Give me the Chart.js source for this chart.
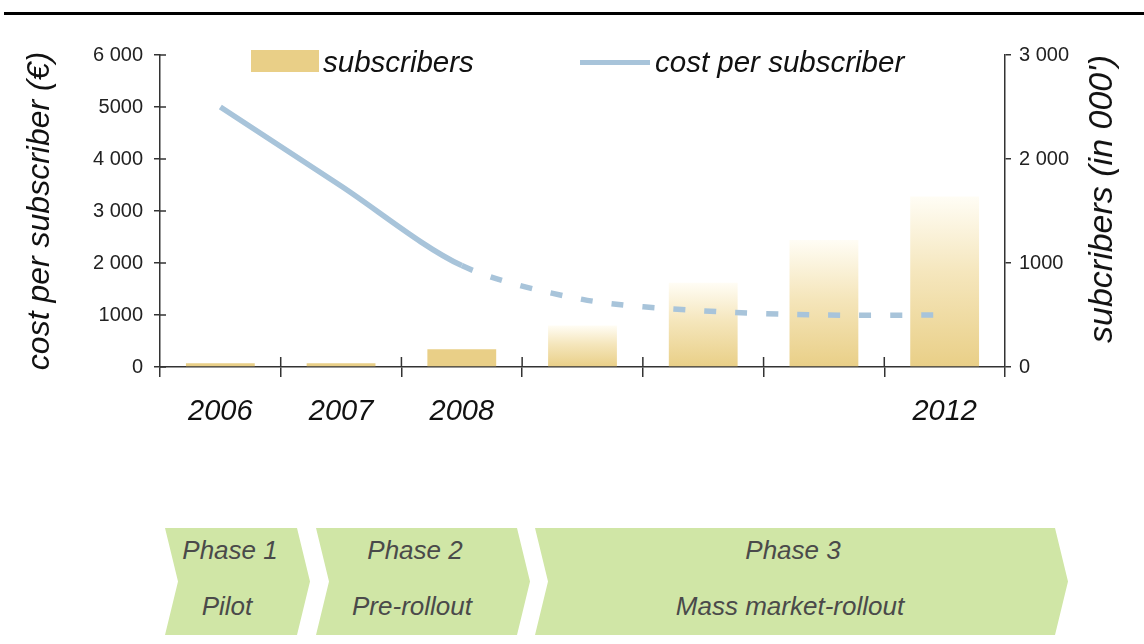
<!DOCTYPE html>
<html>
<head>
<meta charset="utf-8">
<title>Cost per subscriber and subscribers</title>
<script src="https://cdn.jsdelivr.net/npm/chart.js@4.4.1/dist/chart.umd.min.js"></script>
<style>
  body { margin: 0; background: #fff; font-family: "Liberation Sans", Arial, sans-serif; }
  #page { position: relative; width: 1144px; height: 644px; overflow: hidden; }
  #rule { position: absolute; left: 4px; right: 0; top: 12px; height: 3px; background: #000; }
  #chartBox { position: absolute; left: 0; top: 0; width: 1144px; height: 470px; }
  .italic { position: absolute; font-style: italic; white-space: nowrap; line-height: 1; }
  .legend-text { font-size: 29.5px; color: #111; transform: translateY(-50%); }
  #rightTitle { font-size: 34px; color: #111; transform: translate(-50%, -50%) rotate(-90deg); }
  .phase { position: absolute; background: #d0e6a6; }
  .phase-text { font-size: 26px; color: #4a4a4a; transform: translate(-50%, -50%); }
</style>
</head>
<body>
<div id="page">
  <div id="rule"></div>
  <div id="chartBox"><canvas id="costChart" width="1144" height="470"></canvas></div>
</div>
<script>
var years = ["2006", "2007", "2008", "2009", "2010", "2011", "2012"];
var yearLabels = ["2006", "2007", "2008", "", "", "", "2012"];
var subscribers = [35, 35, 170, 400, 810, 1220, 1640];          // in 000'
var costPerSubscriber = [5000, 3480, 1950, 1300, 1080, 1000, 1000]; // €
var costTickLabels = ["0", "1000", "2 000", "3 000", "4 000", "5000", "6 000"];
var subscriberTickLabels = ["0", "1000", "2 000", "3 000"];
var phaseNames = ["Phase 1", "Phase 2", "Phase 3"];
var phaseStages = ["Pilot", "Pre-rollout", "Mass market-rollout"];

// from 2009 on the figures are a forecast: faded bars, dashed line
var firstForecast = 3;

var barColor = "rgb(233, 207, 135)";
var lineColor = "rgb(168, 196, 218)";
var axisColor = "#333";
var tickFont = { family: "Liberation Sans", size: 20 };

// phase arrows below the chart: [left, width, title x, stage x]
var phaseBoxes = [
  [165, 145, 230, 227],
  [316, 214, 415, 412],
  [535, 533, 793, 790]
];

var page = document.getElementById("page");

function addText(cls, text, x, y) {
  var el = document.createElement("div");
  el.className = "italic " + cls;
  el.textContent = text;
  el.style.left = x + "px";
  el.style.top = y + "px";
  page.appendChild(el);
  return el;
}

// legend
var swatch = document.createElement("div");
swatch.style.cssText = "position:absolute;left:251px;top:50px;width:68px;height:22px;background:" + barColor;
page.appendChild(swatch);
addText("legend-text", "subscribers", 323, 62);
var lineKey = document.createElement("div");
lineKey.style.cssText = "position:absolute;left:580px;top:60px;width:70px;height:5px;background:" + lineColor;
page.appendChild(lineKey);
addText("legend-text", "cost per subscriber", 655, 62);

// right axis title reads bottom-to-top, like the left one
addText("", "subcribers (in 000')", 1100, 199).id = "rightTitle";

// phases
phaseBoxes.forEach(function (b, i) {
  var w = b[1], h = 107, n = 13;
  var box = document.createElement("div");
  box.className = "phase";
  box.style.left = b[0] + "px";
  box.style.top = "528px";
  box.style.width = w + "px";
  box.style.height = h + "px";
  box.style.clipPath = "polygon(0 0," + (w - n) + "px 0," + w + "px 50%," + (w - n) + "px 100%,0 100%," + n + "px 50%)";
  page.appendChild(box);
  addText("phase-text", phaseNames[i], b[2], 550);
  addText("phase-text", phaseStages[i], b[3], 606);
});

// tick marks crossing the axes
var crossTicks = {
  id: "crossTicks",
  afterDraw: function (chart) {
    var c = chart.ctx, x = chart.scales.x, y = chart.scales.y;
    var step = x.width / years.length;
    c.save();
    c.strokeStyle = axisColor;
    c.lineWidth = 1.5;
    c.beginPath();
    for (var i = 1; i < years.length; i++) {
      var px = x.left + i * step;
      c.moveTo(px, x.top - 10);
      c.lineTo(px, x.top);
    }
    y.ticks.forEach(function (t) {
      var py = y.getPixelForValue(t.value);
      c.moveTo(y.right, py);
      c.lineTo(y.right + 6, py);
    });
    c.stroke();
    c.restore();
  }
};

function barFill(ctx) {
  var chart = ctx.chart;
  if (ctx.type !== "data" || ctx.dataIndex < firstForecast || !chart.chartArea) return barColor;
  var s = chart.scales.y1;
  var top = s.getPixelForValue(ctx.raw);
  var bottom = s.getPixelForValue(0);
  var g = chart.ctx.createLinearGradient(0, top, 0, bottom);
  g.addColorStop(0, "rgba(255, 253, 245, 1)");
  g.addColorStop(0.45, "rgb(245, 230, 188)");
  g.addColorStop(1, barColor);
  return g;
}

new Chart(document.getElementById("costChart"), {
  type: "bar",
  data: {
    labels: years,
    datasets: [
      {
        type: "line",
        label: "cost per subscriber",
        data: costPerSubscriber,
        yAxisID: "y",
        borderColor: lineColor,
        borderWidth: 5.5,
        borderCapStyle: "butt",
        tension: 0.3,
        pointRadius: 0,
        fill: false,
        order: 0,
        segment: {
          borderDash: function (ctx) {
            return ctx.p0DataIndex >= firstForecast - 1 ? [12, 19] : undefined;
          }
        }
      },
      {
        label: "subscribers",
        data: subscribers,
        yAxisID: "y1",
        backgroundColor: barFill,
        barPercentage: 0.57,
        categoryPercentage: 1,
        order: 1
      }
    ]
  },
  options: {
    responsive: false,
    animation: false,
    layout: { padding: { top: 55, left: 0, right: 0, bottom: 0 } },
    plugins: { legend: { display: false }, tooltip: { enabled: false } },
    scales: {
      x: {
        afterFit: function (s) { s.height = 103; },
        border: { color: axisColor, width: 1.5 },
        grid: { offset: true, drawOnChartArea: false, color: axisColor, lineWidth: 1.5, tickLength: 10 },
        ticks: {
          autoSkip: false,
          maxRotation: 0,
          padding: 18,
          color: "#111",
          font: { family: "Liberation Sans", size: 29, style: "italic" },
          callback: function (v, i) { return yearLabels[i]; }
        }
      },
      y: {
        position: "left",
        min: 0,
        max: 6000,
        afterFit: function (s) { s.width = 160; },
        border: { color: axisColor, width: 1.5 },
        grid: { drawOnChartArea: false, color: axisColor, lineWidth: 1.5, tickLength: 6 },
        ticks: {
          stepSize: 1000,
          padding: 11,
          color: "#222",
          font: tickFont,
          callback: function (v, i) { return costTickLabels[i]; }
        },
        title: {
          display: true,
          text: "cost per subscriber (€)",
          color: "#111",
          font: { family: "Liberation Sans", size: 32, style: "italic" },
          padding: { top: 21, bottom: 0 }
        }
      },
      y1: {
        position: "right",
        min: 0,
        max: 3000,
        afterFit: function (s) { s.width = 139; },
        border: { color: axisColor, width: 1.5 },
        grid: { drawOnChartArea: false, color: axisColor, lineWidth: 1.5, tickLength: 6 },
        ticks: {
          stepSize: 1000,
          padding: 8,
          color: "#222",
          font: tickFont,
          callback: function (v, i) { return subscriberTickLabels[i]; }
        }
      }
    }
  },
  plugins: [crossTicks]
});
</script>
</body>
</html>
